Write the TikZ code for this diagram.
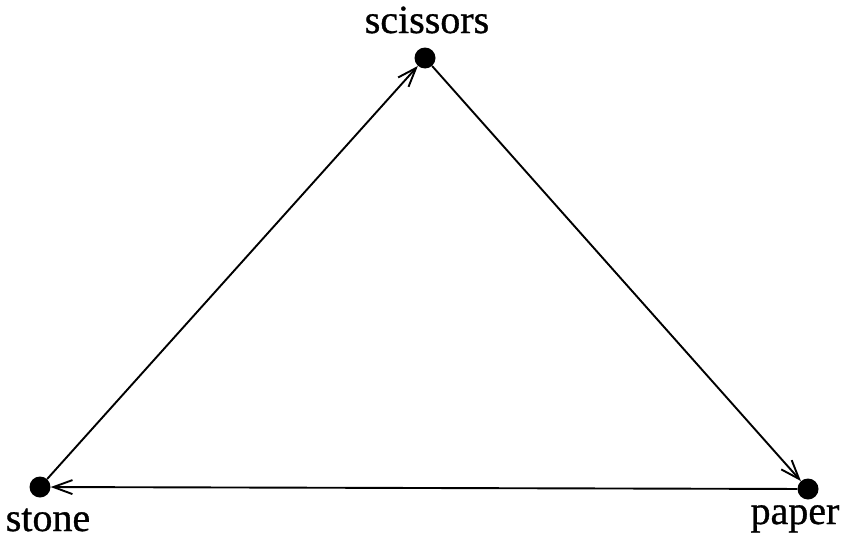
\documentclass[tikz,border=0pt]{standalone}
\usepackage{fontspec}
\setmainfont{Liberation Serif}
\usetikzlibrary{arrows.meta}
\begin{document}
\begin{tikzpicture}[x=1pt,y=-1pt,
  vertex/.style={circle,fill=black,inner sep=0pt,minimum size=21pt},
  lbl/.style={font=\fontsize{40}{42}\selectfont\addfontfeature{FakeBold=0.8},inner sep=0pt,anchor=base},
  edge/.style={line width=1.9pt,-{Straight Barb[length=19pt,width=14pt,line width=1.9pt]}}]
\useasboundingbox (0,0) rectangle (841,538);
\node[vertex] (sc) at (425,58) {};
\node[vertex] (st) at (40,487) {};
\node[vertex] (pa) at (808,489) {};
\node[lbl] (lsc) at (427,33) {scissors};
\node[lbl] (lst) at (48,531) {stone};
\node[lbl] (lpa) at (795,524) {paper};
\draw[edge] (st) -- (sc);
\draw[edge] (sc) -- (pa);
\draw[edge] (pa) -- (st);
\end{tikzpicture}
\end{document}
